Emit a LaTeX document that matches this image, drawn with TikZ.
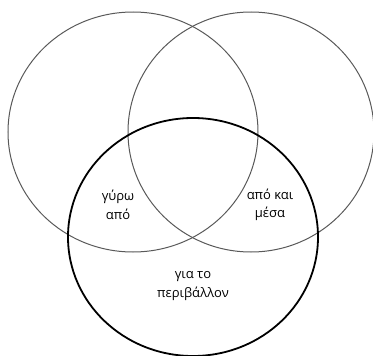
\documentclass[tikz,border=0pt]{standalone}
\usepackage{fontspec}
\setmainfont{Open Sans}
\usepackage{tikz}

\begin{document}
\begin{tikzpicture}[x=1pt, y=-1pt, every node/.style={align=center, font=\fontsize{13}{18.5}\selectfont, inner sep=0pt}]
                    \useasboundingbox (0,0) rectangle (373,356);
                    \draw[gray!70!black, line width=1pt] (133,132) ellipse [x radius=125, y radius=120];
                    \draw[gray!70!black, line width=1pt] (251,132) ellipse [x radius=123, y radius=120];
                    \draw[black, line width=1.8pt] (193,237) ellipse [x radius=125, y radius=119];
                    \node (around) at (118,205) {γύρω\\από};
                    \node (through) at (270,205) {από και\\μέσα};
                    \node (environ) at (193,286) {για το\\περιβάλλον};
                \end{tikzpicture}
\end{document}
